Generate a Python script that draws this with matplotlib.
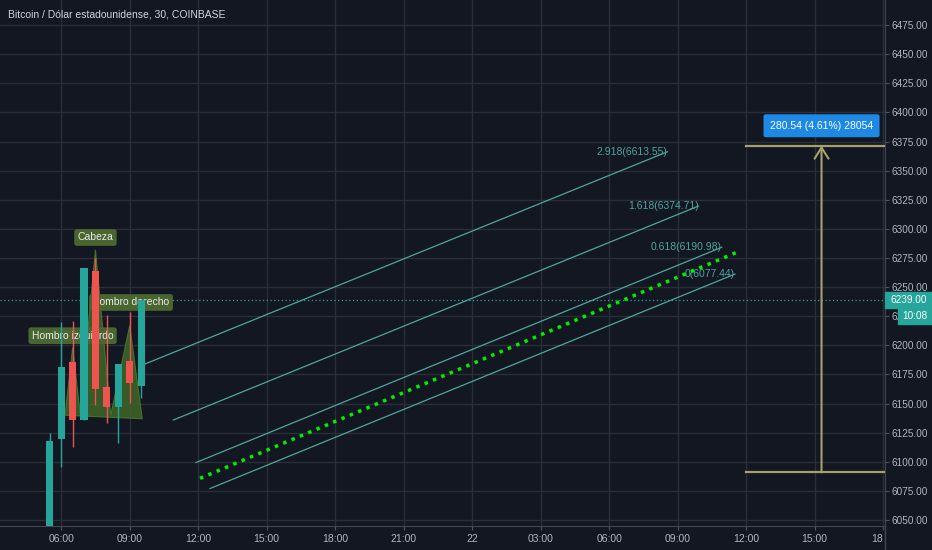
import numpy as np
import matplotlib.pyplot as plt
from matplotlib.patches import Polygon, Rectangle

plt.rcParams['font.family'] = ['Liberation Sans Narrow', 'Liberation Sans', 'DejaVu Sans']

# Candles (hours since day 21 00:00, 30 min bars)
bar_hours = [5.5, 6.0, 6.5, 7.0, 7.5, 8.0, 8.5, 9.0, 9.5]
opens = [6040.0, 6119.6, 6185.4, 6135.9, 6263.8, 6164.5, 6147.1, 6186.3, 6165.3]
highs = [6124.7, 6220.3, 6221.1, 6266.6, 6274.7, 6226.0, 6184.0, 6228.9, 6239.0]
lows = [6030.0, 6095.5, 6113.0, 6135.9, 6148.8, 6133.6, 6116.4, 6150.7, 6154.5]
closes = [6117.9, 6181.7, 6135.9, 6266.6, 6162.2, 6146.8, 6184.0, 6167.9, 6239.0]

# Head and shoulders outline
hs_x = [6.17, 6.5, 6.83, 7.5, 8.17, 9.0, 9.55]
hs_y = [6140.0, 6198.0, 6142.0, 6282.0, 6140.0, 6217.0, 6137.0]
hs_labels = ["Hombro izquierdo", "Cabeza", "Hombro derecho"]
hs_label_x = [6.5, 7.5, 9.06]
hs_label_y = [6208.3, 6292.6, 6236.8]

# Fib channel lines: (start hour, start price, end hour, end price)
fib_names = ["0", "0.618", "1.618", "2.918"]
fib_values = ["6077.44", "6190.98", "6374.71", "6613.55"]
fib_x0 = [12.52, 11.905, 10.91, 9.67]
fib_y0 = [6077.1, 6099.4, 6135.9, 6184.0]
fib_x1 = [35.51, 34.93, 33.91, 32.55]
fib_y1 = [6261.2, 6284.2, 6319.6, 6366.2]

# Green dotted trend line
trend_x = [12.08, 35.54]
trend_y = [6085.8, 6279.5]

# Measurement
meas_x = [36.0, 42.6]
meas_low = 6091.0
meas_high = 6371.54
meas_text = "280.54 (4.61%) 28054"

last_price = 6239.0
countdown = "10:08"

xtick_hours = [6, 9, 12, 15, 18, 21, 24, 27, 30, 33, 36, 39, 42]
xtick_labels = ["06:00", "09:00", "12:00", "15:00", "18:00", "21:00", "22",
                "03:00", "06:00", "09:00", "12:00", "15:00", "18"]
ytick_values = np.arange(6050, 6476, 25)

bg = '#131722'
grid_c = '#2a2e39'
txt_c = '#b2b5be'
up_c = '#26a69a'
dn_c = '#ef5350'
fib_c = '#4fa59e'

fig = plt.figure(figsize=(9.32, 5.5), dpi=100, facecolor=bg)
ax = fig.add_axes([0, 24/550, 885/932, 526/550])
ax.set_facecolor(bg)
ax.set_axisbelow(True)
ax.set_xlim(3.32, 42.08)
ax.set_ylim(6044.9, 6496.5)

ax.set_xticks(xtick_hours)
ax.set_xticklabels(xtick_labels)
ax.set_yticks(ytick_values)
ax.set_yticklabels(["%.2f" % v for v in ytick_values])
ax.yaxis.tick_right()
ax.tick_params(axis='both', colors='#50535e', labelcolor=txt_c, labelsize=7.5, length=3)
ax.tick_params(axis='y', pad=2, labelsize=7.2)
ax.tick_params(axis='x', pad=3)
ax.get_xticklabels()[-1].set_horizontalalignment('right')
ax.grid(True, color=grid_c, lw=1)
for s in ['top', 'left']:
	ax.spines[s].set_visible(False)
for s in ['right', 'bottom']:
	ax.spines[s].set_color('#434651')

# Last price dotted line
ax.axhline(last_price, color=up_c, lw=0.9, linestyle=(0, (1, 2)), zorder=1)

# Pattern fill
poly = Polygon(list(zip(hs_x, hs_y)), closed=True, facecolor='#3e6629', edgecolor='#4d7a33',
			   lw=0.8, alpha=0.85, zorder=2)
ax.add_patch(poly)
for lx, ly, lt in zip(hs_label_x, hs_label_y, hs_labels):
	ax.text(lx, ly, lt, ha='center', va='center', color='#e8eaed', fontsize=7.5, zorder=3,
			bbox=dict(boxstyle='round,pad=0.32,rounding_size=0.25', fc='#4a6630', ec='none'))

# Candles
for t, o, h, l, c in zip(bar_hours, opens, highs, lows, closes):
	col = up_c if c >= o else dn_c
	ax.vlines(t, l, h, color=col, lw=1, zorder=4)
	ax.bar(t, abs(c - o), bottom=min(o, c), width=0.31, color=col, zorder=5)

# Fib channel
for x0, y0, x1, y1, n, v in zip(fib_x0, fib_y0, fib_x1, fib_y1, fib_names, fib_values):
	ax.plot([x0, x1], [y0, y1], color=fib_c, lw=0.9, zorder=2)
	ax.text(x1, y1, "%s(%s)" % (n, v), ha='right', va='center', color=fib_c, fontsize=7.5, zorder=3)

# Trend dotted line
ax.plot(trend_x, trend_y, color='#00f000', lw=2.5, linestyle=(0, (1, 1.6)), zorder=3)

# Measurement tool
meas_c = '#a5a269'
ax.plot(meas_x, [meas_high, meas_high], color=meas_c, lw=1.6, zorder=3, clip_on=True)
ax.plot(meas_x, [meas_low, meas_low], color=meas_c, lw=1.6, zorder=3, clip_on=True)
mid = (meas_x[0] + meas_x[1]) / 2
ax.annotate('', xy=(mid, meas_high), xytext=(mid, meas_low),
			arrowprops=dict(arrowstyle='->,head_length=0.8,head_width=0.5', color=meas_c, lw=1.5,
							shrinkA=0, shrinkB=0), zorder=3)
ax.text(mid, meas_high + 17, meas_text, ha='center', va='center', color='white', fontsize=7.5, zorder=6,
		bbox=dict(boxstyle='round,pad=0.62,rounding_size=0.2', fc='#1e88e5', ec='none'))

# Title
ax.text(0.009, 0.973, "Bitcoin / Dólar estadounidense, 30, COINBASE", transform=ax.transAxes,
		ha='left', va='center', color='#d1d4dc', fontsize=7.5, zorder=6)

# Price labels on the axis
ytr = ax.get_yaxis_transform()
ax.add_patch(Rectangle((1.0, last_price - 6.9), 47/885, 13.8, transform=ytr, color=up_c,
					   clip_on=False, zorder=10))
ax.text(1.0 + 6/885, last_price, "%.2f" % last_price, transform=ytr, ha='left', va='center',
		color='white', fontsize=7.2, zorder=11, clip_on=False)
ax.add_patch(Rectangle((1.0 + 13/885, last_price - 7.6 - 13.0), 34/885, 13.0, transform=ytr,
					   color=up_c, clip_on=False, zorder=10))
ax.text(1.0 + 30/885, last_price - 7.6 - 6.5, countdown, transform=ytr, ha='center', va='center',
		color='white', fontsize=7.2, zorder=11, clip_on=False)

# Cover the corner under the price scale
fig.patches.append(Rectangle((885/932, 0), 47/932, 24/550, transform=fig.transFigure,
							 color=bg, zorder=5))
fig.lines.append(plt.Line2D([884.5/932, 884.5/932], [0, 24/550], transform=fig.transFigure,
							color='#434651', lw=1, zorder=6))

fig.savefig('out.png', dpi=100, facecolor=bg)
